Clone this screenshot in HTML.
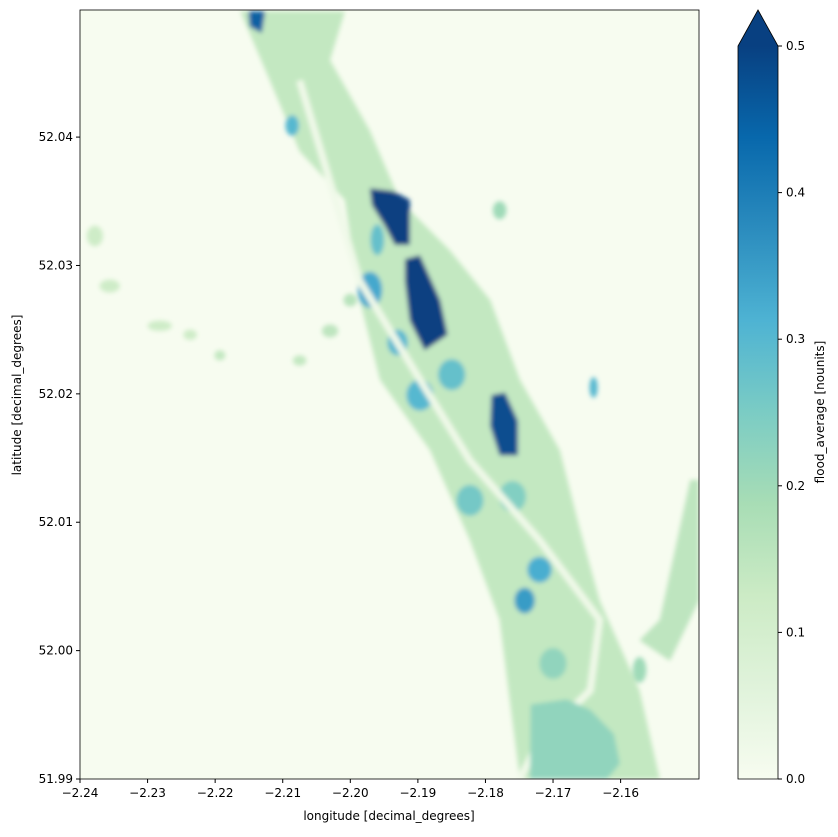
<!DOCTYPE html>
<html><head><meta charset="utf-8"><style>
body{margin:0;background:#fff;font-family:"DejaVu Sans","Liberation Sans",sans-serif;}
svg text{font-family:"DejaVu Sans","Liberation Sans",sans-serif;font-size:12px;fill:#000;}
</style></head><body>
<svg id="chart" width="838" height="833"></svg>
<script>
const xTicks=[-2.24,-2.23,-2.22,-2.21,-2.20,-2.19,-2.18,-2.17,-2.16];
const xTickLabels=["−2.24","−2.23","−2.22","−2.21","−2.20","−2.19","−2.18","−2.17","−2.16"];
const yTicks=[51.99,52.00,52.01,52.02,52.03,52.04];
const yTickLabels=["51.99","52.00","52.01","52.02","52.03","52.04"];
const cbTicks=[0,0.1,0.2,0.3,0.4,0.5];
const cbTickLabels=["0.0","0.1","0.2","0.3","0.4","0.5"];
// flooded regions (lon,lat polygons) and their values
const bandPoly=[[-2.2163,52.0498],[-2.2119,52.0444],[-2.2075,52.0389],[-2.2008,52.0351],[-2.1986,52.0273],[-2.1956,52.0211],[-2.1882,52.0156],[-2.1823,52.0086],[-2.1779,52.0024],[-2.1764,51.9961],[-2.1749,51.99],[-2.1542,51.99],[-2.1572,51.9969],[-2.1631,52.0039],[-2.1660,52.0094],[-2.1690,52.0156],[-2.1749,52.0211],[-2.1793,52.0273],[-2.1853,52.0312],[-2.1927,52.0351],[-2.1971,52.0405],[-2.2030,52.0460],[-2.2008,52.0498]];
const bandValue=0.14;
const patchPolys=[
[[-2.1971,52.0360],[-2.1937,52.0358],[-2.1912,52.0351],[-2.1912,52.0316],[-2.1934,52.0316],[-2.1949,52.0331],[-2.1968,52.0347]],
[[-2.1919,52.0305],[-2.1897,52.0308],[-2.1867,52.0273],[-2.1856,52.0246],[-2.1890,52.0234],[-2.1912,52.0257],[-2.1919,52.0288]],
[[-2.1791,52.0199],[-2.1771,52.0201],[-2.1752,52.0179],[-2.1752,52.0152],[-2.1779,52.0152],[-2.1793,52.0175]],
[[-2.2151,52.0498],[-2.2126,52.0498],[-2.2131,52.0481],[-2.2149,52.0486]],
[[-2.1733,51.9958],[-2.1680,51.9962],[-2.1645,51.9954],[-2.1610,51.9935],[-2.1601,51.9912],[-2.1620,51.99],[-2.1734,51.99]],
[[-2.1497,52.0133],[-2.1484,52.0133],[-2.1484,52.0039],[-2.1527,51.9992],[-2.1572,52.0008],[-2.1542,52.0024]]
];
const patchValues=[0.5,0.5,0.48,0.45,0.22,0.15];
const blobLon=[-2.2378,-2.2356,-2.2282,-2.2237,-2.2075,-2.2030,-2.2000,-2.1779,-2.2193,-2.1971,-2.1897,-2.1742,-2.2086,-2.1720,-2.1823,-2.1572,-2.1640,-2.1960,-2.1930,-2.1850,-2.1760,-2.1700];
const blobLat=[52.0323,52.0284,52.0253,52.0246,52.0226,52.0249,52.0273,52.0343,52.0230,52.0281,52.0199,52.0039,52.0409,52.0063,52.0117,51.9985,52.0205,52.0320,52.0240,52.0215,52.0120,51.9990];
const blobRx=[0.0012,0.0015,0.0018,0.0010,0.0010,0.0012,0.0010,0.0010,0.0008,0.0018,0.0020,0.0015,0.0010,0.0018,0.0020,0.0010,0.0006,0.0010,0.0015,0.0020,0.0020,0.0020];
const blobRy=[0.0008,0.0005,0.0004,0.0004,0.0004,0.0005,0.0005,0.0007,0.0004,0.0014,0.0012,0.0010,0.0008,0.0010,0.0012,0.0010,0.0008,0.0012,0.0010,0.0012,0.0012,0.0012];
const blobValues=[0.12,0.12,0.12,0.12,0.14,0.15,0.16,0.2,0.14,0.33,0.3,0.35,0.3,0.32,0.26,0.2,0.3,0.28,0.3,0.28,0.24,0.22];
const riverLon=[-2.2075,-2.1986,-2.1897,-2.1823,-2.1720,-2.1631,-2.1645,-2.1720,-2.1749];
const riverLat=[52.0444,52.0288,52.0211,52.0148,52.0086,52.0024,51.9969,51.9930,51.99];

const NS="http://www.w3.org/2000/svg";
const svg=document.getElementById('chart');
const PX0=80,PX1=699,PY0=10,PY1=779;
const LON0=-2.24,LON1=-2.1484,LAT0=51.99,LAT1=52.0499;
const xS=v=>PX0+(v-LON0)/(LON1-LON0)*(PX1-PX0);
const yS=v=>PY1-(v-LAT0)/(LAT1-LAT0)*(PY1-PY0);
const CB0=779,CB1=46;
const cbS=v=>CB0-(v/0.5)*(CB0-CB1);
const stops=["#f7fcf0","#e0f3db","#ccebc5","#a8ddb5","#7bccc4","#4eb3d3","#2b8cbe","#0868ac","#084081"];
function cmap(v){let t=Math.max(0,Math.min(1,v/0.5))*8;let i=Math.min(7,Math.floor(t)),f=t-i;
 const a=stops[i],b=stops[i+1];const c=k=>Math.round(parseInt(a.substr(k,2),16)*(1-f)+parseInt(b.substr(k,2),16)*f);
 return `rgb(${c(1)},${c(3)},${c(5)})`;}
function el(t,at,p){const e=document.createElementNS(NS,t);for(const k in at)e.setAttribute(k,at[k]);(p||svg).appendChild(e);return e;}
const defs=el('defs',{});
defs.innerHTML='<clipPath id="pc"><rect x="80" y="10" width="619" height="769"/></clipPath><filter id="soft"><feGaussianBlur stdDeviation="2.5"/></filter><linearGradient id="cbg" x1="0" y1="1" x2="0" y2="0">'+stops.map((s,i)=>`<stop offset="${i/8}" stop-color="${s}"/>`).join('')+'</linearGradient>';
const bg=el('rect',{x:PX0,y:PY0,width:PX1-PX0,height:PY1-PY0,fill:stops[0]});


const g=el('g',{'clip-path':'url(#pc)'});


const gi=el('g',{filter:'url(#soft)'},g);
const ptStr=p=>p.map(q=>xS(q[0]).toFixed(1)+','+yS(q[1]).toFixed(1)).join(' ');
const band=el('polygon',{points:ptStr(bandPoly),fill:cmap(bandValue)},gi);


blobLon.forEach((lo,i)=>{const e=el('ellipse',{cx:xS(lo),cy:yS(blobLat[i]),rx:Math.abs(xS(lo+blobRx[i])-xS(lo)),ry:Math.abs(yS(blobLat[i]+blobRy[i])-yS(blobLat[i])),fill:cmap(blobValues[i])},gi);
 
 });
const rv=el('polyline',{points:riverLon.map((l,i)=>xS(l)+','+yS(riverLat[i])).join(' '),fill:'none',stroke:cmap(0.02),'stroke-width':7},gi);


patchPolys.forEach((p,i)=>{const e=el('polygon',{points:ptStr(p),fill:cmap(patchValues[i])},gi);
 
 });
el('rect',{x:PX0,y:PY0,width:PX1-PX0,height:PY1-PY0,fill:'none',stroke:'#000','stroke-width':0.8});
xTicks.forEach((v,i)=>{const x=xS(v);el('line',{x1:x,x2:x,y1:PY1,y2:PY1+4,stroke:'#000'});
 const t=el('text',{x:x,y:PY1+18,'text-anchor':'middle'});t.textContent=xTickLabels[i];
 
 });
yTicks.forEach((v,i)=>{const y=yS(v);el('line',{x1:PX0-4,x2:PX0,y1:y,y2:y,stroke:'#000'});
 const t=el('text',{x:PX0-7,y:y+4,'text-anchor':'end'});t.textContent=yTickLabels[i];
 
 });
const xt=el('text',{x:389,y:820,'text-anchor':'middle'});xt.textContent='longitude [decimal_degrees]';

const yt=el('text',{x:21,y:395,'text-anchor':'middle',transform:'rotate(-90 21 395)'});yt.textContent='latitude [decimal_degrees]';

// colorbar
const cb=el('g',{});


el('rect',{x:738,y:CB1,width:40,height:CB0-CB1,fill:'url(#cbg)'},cb);
el('polygon',{points:`738,${CB1} 758,10 778,${CB1}`,fill:stops[8]},cb);
el('polygon',{points:`738,${CB0} 738,${CB1} 758,10 778,${CB1} 778,${CB0}`,fill:'none',stroke:'#000','stroke-width':0.8},cb);
cbTicks.forEach((v,i)=>{const y=cbS(v);el('line',{x1:778,x2:782,y1:y,y2:y,stroke:'#000'},cb);
 const t=el('text',{x:786,y:y+4},cb);t.textContent=cbTickLabels[i];
 
 });
const ct=el('text',{x:824,y:412,'text-anchor':'middle',transform:'rotate(-90 824 412)'});ct.textContent='flood_average [nounits]';

</script>
</body></html>
